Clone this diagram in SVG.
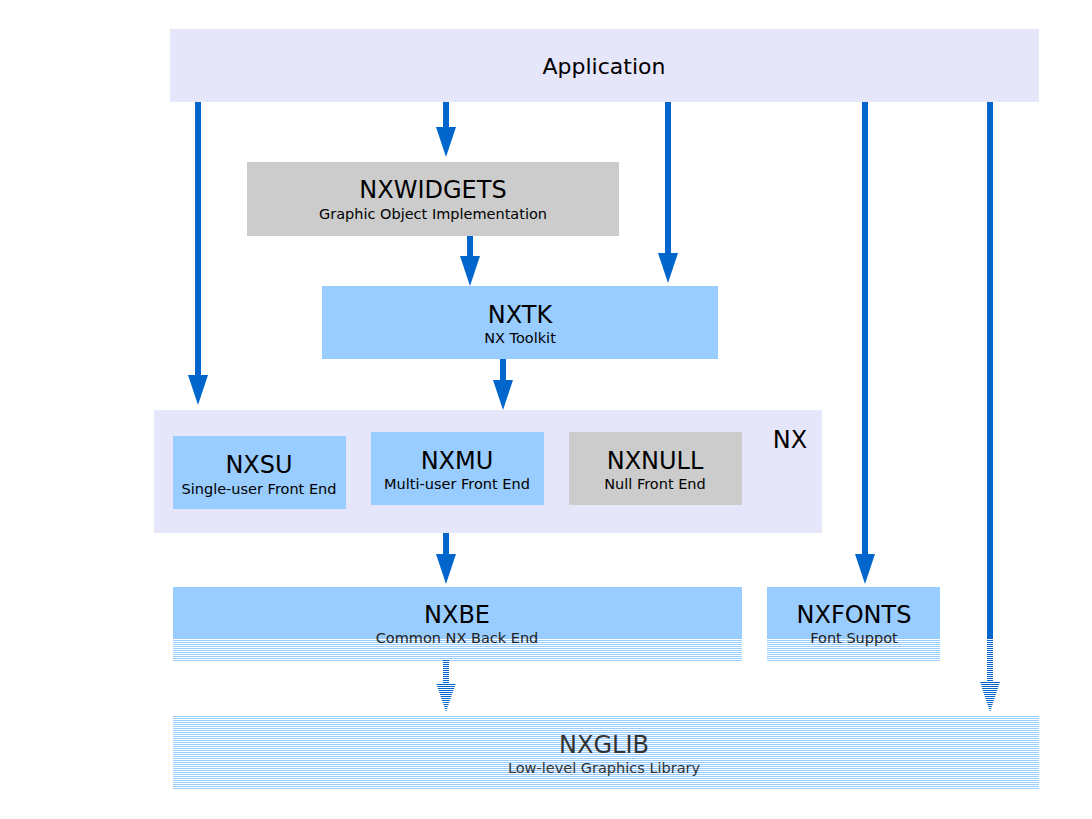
<svg xmlns="http://www.w3.org/2000/svg" width="1092" height="819" viewBox="0 0 1092 819">
<defs>
<pattern id="stripe" width="4" height="2" patternUnits="userSpaceOnUse"><rect width="4" height="1" fill="#99ccff"/></pattern>
<pattern id="bstripe" width="4" height="2" patternUnits="userSpaceOnUse"><rect width="4" height="1" fill="#0066cc"/></pattern>
<marker id="ah" markerWidth="30" markerHeight="20" refX="0" refY="10" orient="auto" markerUnits="userSpaceOnUse" viewBox="0 0 30 20" overflow="visible"><path d="M0,0 L30,10 L0,20 Z" fill="#0066cc"/></marker>
</defs>
<style>
.lav{fill:#e6e6fa}
.blue{fill:#99ccff}
.gray{fill:#cccccc}
.t{font-family:"DejaVu Sans",Verdana,sans-serif;fill:#000;text-anchor:middle}
.big{font-size:24px}
.sm{font-size:14.5px}
.conn line{stroke:#0066cc;stroke-width:6}
.sl{fill:url(#bstripe)}
</style>
<rect width="1092" height="819" fill="#fff"/>
<g id="application"><rect x="170" y="29" width="869" height="73" class="lav"/><text x="604" y="74" class="t" style="font-size:22px">Application</text></g>
<g id="nxwidgets"><rect x="247" y="162" width="372" height="74" class="gray"/><text x="433" y="198" class="t big">NXWIDGETS</text><text x="433" y="219" class="t sm">Graphic Object Implementation</text></g>
<g id="nxtk"><rect x="322" y="286" width="396" height="73" class="blue"/><text x="520" y="323" class="t big">NXTK</text><text x="520" y="343" class="t sm">NX Toolkit</text></g>
<g id="nx"><rect x="154" y="410" width="668" height="123" class="lav"/><text x="790" y="448" class="t big">NX</text>
<g id="nxsu"><rect x="173" y="436" width="173" height="73" class="blue"/><text x="259" y="473" class="t big">NXSU</text><text x="259" y="494" class="t sm">Single-user Front End</text></g>
<g id="nxmu"><rect x="371" y="432" width="173" height="73" class="blue"/><text x="457" y="469" class="t big">NXMU</text><text x="457" y="489" class="t sm">Multi-user Front End</text></g>
<g id="nxnull"><rect x="569" y="432" width="173" height="73" class="gray"/><text x="655" y="469" class="t big">NXNULL</text><text x="655" y="489" class="t sm">Null Front End</text></g>
</g>
<g id="nxbe"><rect x="173" y="587" width="569" height="51" class="blue"/><rect x="173" y="638" width="569" height="23" fill="url(#stripe)"/><text x="457" y="623" class="t big">NXBE</text><text x="457" y="643" class="t sm" style="fill:#222">Common NX Back End</text></g>
<g id="nxfonts"><rect x="767" y="587" width="173" height="51" class="blue"/><rect x="767" y="638" width="173" height="23" fill="url(#stripe)"/><text x="854" y="623" class="t big">NXFONTS</text><text x="854" y="643" class="t sm" style="fill:#222">Font Suppot</text></g>
<g id="nxglib"><rect x="173" y="716" width="866" height="73" fill="url(#stripe)"/><text x="604" y="753" class="t big" style="fill:#333">NXGLIB</text><text x="604" y="773" class="t sm" style="fill:#333">Low-level Graphics Library</text></g>
<g class="conn" id="connectors">
<line x1="198" y1="102" x2="198" y2="375" marker-end="url(#ah)"/>
<line x1="446" y1="102" x2="446" y2="127" marker-end="url(#ah)"/>
<line x1="668" y1="102" x2="668" y2="253" marker-end="url(#ah)"/>
<line x1="865" y1="102" x2="865" y2="554" marker-end="url(#ah)"/>
<line x1="990" y1="102" x2="990" y2="638"/>
<rect x="987" y="638" width="6" height="45" class="sl"/>
<path d="M980,682 L1000,682 L990,712 Z" class="sl"/>
<line x1="470" y1="236" x2="470" y2="256" marker-end="url(#ah)"/>
<line x1="503" y1="359" x2="503" y2="380" marker-end="url(#ah)"/>
<line x1="446" y1="533" x2="446" y2="554" marker-end="url(#ah)"/>
<rect x="443" y="660" width="6" height="24" class="sl"/>
<path d="M436,683 L456,683 L446,712 Z" class="sl"/>
</g>
</svg>
